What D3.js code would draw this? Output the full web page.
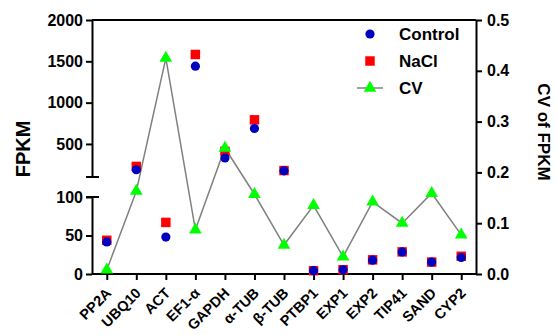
<!DOCTYPE html>
<html>
<head>
<meta charset="utf-8">
<script src="https://cdn.jsdelivr.net/npm/d3@7"></script>
<style>
  body { margin: 0; background: #fff; }
  text { font-family: "Liberation Sans", Arial, sans-serif; font-weight: bold; }
</style>
</head>
<body>
<div id="chart"></div>
<script>
const genes = ['PP2A', 'UBQ10', 'ACT', 'EF1-α', 'GAPDH', 'α-TUB', 'β-TUB', 'PTBP1', 'EXP1', 'EXP2', 'TIP41', 'SAND', 'CYP2'];
const control = [41.6, 188, 48, 1441, 330, 687, 175, 4.3, 5.5, 18, 28.7, 15.5, 21.4];
const nacl = [43.8, 228, 67, 1583, 411, 792, 178, 4.3, 5.5, 18.4, 28.7, 15.5, 23];
const cv = [0.008, 0.163, 0.425, 0.087, 0.248, 0.157, 0.057, 0.135, 0.034, 0.142, 0.1, 0.159, 0.077];

const lowTicks = [0, 50, 100];
const highTicks = [500, 1000, 1500, 2000];
const cvTicks = [0, 0.1, 0.2, 0.3, 0.4, 0.5];

const width = 556, height = 335;
const plot = {left: 92, right: 476, top: 20, bottom: 274};

const svg = d3.select('#chart')
  .append('svg')
    .attr('width', width)
    .attr('height', height);

const xScale = d3.scalePoint()
  .domain(genes)
  .range([plot.left, plot.right])
  .padding(0.5);

// broken left axis: 0-100 lower, 100-2000 upper
const yLow = d3.scaleLinear().domain([0, 100]).range([plot.bottom, 197]);
const yHigh = d3.scaleLinear().domain([100, 2000]).range([177, plot.top]);
const yLeft = (v) => v <= 100 ? yLow(v) : yHigh(v);

const yRight = d3.scaleLinear().domain([0, 0.5]).range([plot.bottom, plot.top]);

const axisStyle = (g) => {
  g.selectAll('path, line').attr('stroke', '#000').attr('stroke-width', 2);
  g.selectAll('text').attr('fill', '#000').style('font-size', '16px');
};

// left axis, upper segment
svg.append('g')
  .attr('transform', `translate(${plot.left},0)`)
  .call(d3.axisLeft(yHigh).tickValues(highTicks).tickFormat(d3.format('d')).tickSize(6).tickSizeOuter(0).tickPadding(3))
  .call(axisStyle);

// left axis, lower segment
svg.append('g')
  .attr('transform', `translate(${plot.left},0)`)
  .call(d3.axisLeft(yLow).tickValues(lowTicks).tickFormat(d3.format('d')).tickSize(6).tickSizeOuter(0).tickPadding(3))
  .call(axisStyle);

// break caps
[yHigh(100), yLow(100)].forEach((y) => {
  svg.append('line')
    .attr('x1', plot.left - 6).attr('x2', plot.left + 7)
    .attr('y1', y).attr('y2', y)
    .attr('stroke', '#000').attr('stroke-width', 2);
});

// right axis
svg.append('g')
  .attr('transform', `translate(${plot.right},0)`)
  .call(d3.axisRight(yRight).tickValues(cvTicks).tickFormat(d3.format('.1f')).tickSize(6).tickSizeOuter(0).tickPadding(5))
  .call(axisStyle);

// top border
svg.append('line')
  .attr('x1', plot.left).attr('x2', plot.right)
  .attr('y1', plot.top).attr('y2', plot.top)
  .attr('stroke', '#000').attr('stroke-width', 2);

// x axis
const xAxis = svg.append('g')
  .attr('transform', `translate(0,${plot.bottom})`)
  .call(d3.axisBottom(xScale).tickSize(6).tickSizeOuter(0))
  .call(axisStyle);
xAxis.select('.domain').attr('d', `M${plot.left},0H${plot.right}`);
xAxis.selectAll('text')
  .style('font-size', '14.5px')
  .attr('text-anchor', 'end')
  .attr('x', 0)
  .attr('y', 0)
  .attr('dy', 0)
  .attr('transform', 'translate(5,20) rotate(-45)');

// axis titles
svg.append('text')
  .attr('transform', 'translate(30,149) rotate(-90)')
  .attr('text-anchor', 'middle')
  .style('font-size', '20px')
  .text('FPKM');

svg.append('text')
  .attr('transform', 'translate(538,132) rotate(90)')
  .attr('text-anchor', 'middle')
  .style('font-size', '17px')
  .text('CV of FPKM');

// CV line
const line = d3.line()
  .x((d, i) => xScale(genes[i]))
  .y((d) => yRight(d));

svg.append('path')
  .datum(cv)
  .attr('fill', 'none')
  .attr('stroke', '#808080')
  .attr('stroke-width', 1.5)
  .attr('d', line);

const square = d3.symbol().type(d3.symbolSquare).size(90);
const triangle = d3.symbol().type(d3.symbolTriangle).size(70);

// NaCl squares
svg.append('g').selectAll('path')
  .data(nacl)
  .join('path')
    .attr('d', square)
    .attr('transform', (d, i) => `translate(${xScale(genes[i])},${yLeft(d)})`)
    .attr('fill', '#ff0000');

// Control circles
svg.append('g').selectAll('circle')
  .data(control)
  .join('circle')
    .attr('cx', (d, i) => xScale(genes[i]))
    .attr('cy', (d) => yLeft(d))
    .attr('r', 4.6)
    .attr('fill', '#0000c0');

// CV triangles
svg.append('g').selectAll('path')
  .data(cv)
  .join('path')
    .attr('d', triangle)
    .attr('transform', (d, i) => `translate(${xScale(genes[i])},${yRight(d)})`)
    .attr('fill', '#00ff00');

// legend
const legend = svg.append('g');
legend.append('circle').attr('cx', 370).attr('cy', 34).attr('r', 4.6).attr('fill', '#0000c0');
legend.append('path').attr('d', square).attr('transform', 'translate(370,61)').attr('fill', '#ff0000');
legend.append('line').attr('x1', 357).attr('x2', 383).attr('y1', 88).attr('y2', 88)
  .attr('stroke', '#808080').attr('stroke-width', 1.5);
legend.append('path').attr('d', triangle).attr('transform', 'translate(370,88)').attr('fill', '#00ff00');

const labels = ['Control', 'NaCl', 'CV'];
[34, 61, 88].forEach((y, i) => {
  legend.append('text')
    .attr('x', 399)
    .attr('y', y)
    .attr('dy', '0.35em')
    .style('font-size', '17px')
    .text(labels[i]);
});
</script>
</body>
</html>
